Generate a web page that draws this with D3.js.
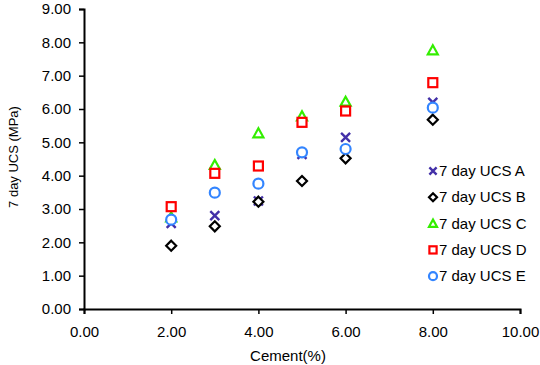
<!DOCTYPE html>
<html>
<head>
<meta charset="utf-8">
<script src="https://cdn.jsdelivr.net/npm/d3@7"></script>
<style>
  body { margin: 0; background: #fff; }
  svg { font-family: "Liberation Sans", Arial, sans-serif; }
</style>
</head>
<body>
<svg id="chart"></svg>
<script>
//Data
var cement = [2, 3, 4, 5, 6, 8];
var seriesNames = ["7 day UCS A", "7 day UCS B", "7 day UCS C", "7 day UCS D", "7 day UCS E"];
var ucsA = [2.57, 2.80, 3.24, 4.64, 5.15, 6.20];
var ucsB = [1.90, 2.48, 3.22, 3.84, 4.52, 5.68];
var ucsC = [2.75, 4.32, 5.27, 5.78, 6.22, 7.76];
var ucsD = [3.07, 4.07, 4.29, 5.60, 5.94, 6.79];
var ucsE = [2.68, 3.49, 3.76, 4.70, 4.80, 6.04];
var xTicks = [0, 2, 4, 6, 8, 10];
var yTicks = [0, 1, 2, 3, 4, 5, 6, 7, 8, 9];

var svg = d3.select("#chart");
var dims = {
    width: 540,
    height: 365,
    margin: { top: 9, bottom: 56, right: 20, left: 84 }
};
svg.attr("width", dims.width).attr("height", dims.height);

var colors = ["#4330a8", "#000000", "#33ee00", "#ff0000", "#3385ff"];
var shapes = ["x", "diamond", "triangle", "square", "circle"];
var allSeries = [ucsA, ucsB, ucsC, ucsD, ucsE];

//Scales
var xScale = d3.scaleLinear()
    .domain([0, 10])
    .range([dims.margin.left, dims.width - dims.margin.right]);
var yScale = d3.scaleLinear()
    .domain([0, 9])
    .range([dims.height - dims.margin.bottom, dims.margin.top]);

//Axes
var xAxis = svg.append("g")
    .attr("transform", `translate(0,${yScale(0)})`)
    .call(d3.axisBottom(xScale).tickValues(xTicks).tickFormat(d3.format(".2f")).tickSizeOuter(0).tickSize(5).tickPadding(12));
var yAxis = svg.append("g")
    .attr("transform", `translate(${dims.margin.left},0)`)
    .call(d3.axisLeft(yScale).tickValues(yTicks).tickFormat(d3.format(".2f")).tickSizeOuter(0).tickSize(5).tickPadding(8));

[xAxis, yAxis].forEach(a => {
    a.select(".domain").attr("stroke", "#000").attr("stroke-width", 2);
    a.selectAll(".tick line").attr("stroke", "#000").attr("stroke-width", 1.5);
    a.selectAll("text").attr("font-size", 15).attr("fill", "#000")
        .attr("font-family", "Liberation Sans, Arial, sans-serif");
});

//Axis titles
svg.append("text")
    .attr("x", (xScale(0) + xScale(10)) / 2 - 14)
    .attr("y", 361)
    .attr("text-anchor", "middle")
    .attr("font-size", 15)
    .text("Cement(%)");
svg.append("text")
    .attr("transform", `translate(18,157) rotate(-90)`)
    .attr("text-anchor", "middle")
    .attr("font-size", 13)
    .text("7 day UCS (MPa)");

//Marker drawing
function drawMarker(g, shape, color, s) {
    if (shape === "x") {
        g.append("path").attr("d", `M${-4.5*s},${-4.5*s}L${4.5*s},${4.5*s}M${-4.5*s},${4.5*s}L${4.5*s},${-4.5*s}`)
            .attr("stroke", color).attr("stroke-width", 2.4).attr("fill", "none");
    } else if (shape === "diamond") {
        g.append("path").attr("d", `M0,${-5*s}L${5*s},0L0,${5*s}L${-5*s},0Z`)
            .attr("stroke", color).attr("stroke-width", 2.2).attr("fill", "#fff");
    } else if (shape === "triangle") {
        g.append("path").attr("d", `M0,${-5*s}L${5*s},${4*s}L${-5*s},${4*s}Z`)
            .attr("stroke", color).attr("stroke-width", 2.2).attr("fill", "#fff");
    } else if (shape === "square") {
        g.append("rect").attr("x", -4.5*s).attr("y", -4.5*s).attr("width", 9*s).attr("height", 9*s)
            .attr("stroke", color).attr("stroke-width", 2.2).attr("fill", "#fff");
    } else {
        g.append("circle").attr("r", 5*s)
            .attr("stroke", color).attr("stroke-width", 2.2).attr("fill", "#fff");
    }
}

//Points
allSeries.forEach((values, i) => {
    svg.append("g")
        .selectAll(".pt")
        .data(values)
        .enter()
        .append("g")
        .attr("class", "pt")
        .attr("transform", (d, j) => `translate(${xScale(cement[j])},${yScale(d)})`)
        .each(function() { drawMarker(d3.select(this), shapes[i], colors[i], 1); });
});

//Legend
var legend = svg.append("g").attr("transform", "translate(433,171)");
seriesNames.forEach((name, i) => {
    var row = legend.append("g").attr("transform", `translate(0,${i * 26.3})`);
    drawMarker(row, shapes[i], colors[i], 0.8);
    row.append("text")
        .attr("x", 6)
        .attr("y", 5)
        .attr("font-size", 15)
        .text(name);
});
</script>
</body>
</html>
